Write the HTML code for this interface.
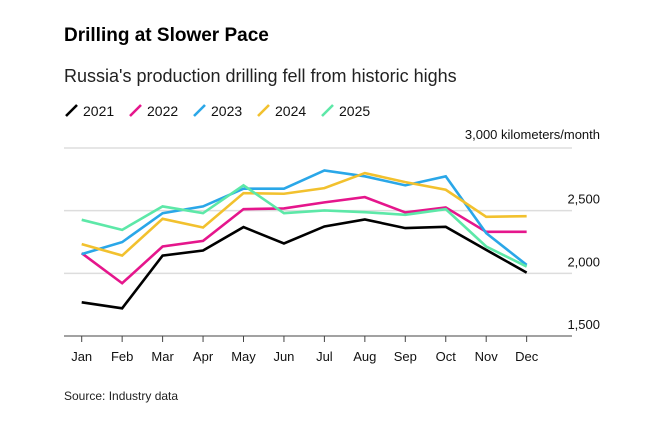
<!DOCTYPE html>
<html><head><meta charset="utf-8"><style>
body{margin:0;background:#fff;font-family:"Liberation Sans",sans-serif;}
svg text{font-family:"Liberation Sans",sans-serif;}
</style></head><body>
<svg width="671" height="417" id="c">
<text x="64" y="41" font-size="19" font-weight="bold" fill="#000">Drilling at Slower Pace</text>
<text x="64" y="82" font-size="18" fill="#222">Russia's production drilling fell from historic highs</text>
<g id="legend"></g>
<text x="600" y="139" font-size="13" fill="#111" text-anchor="end">3,000 kilometers/month</text>
<g id="grid"></g><g id="lines"></g><g id="xa"></g>
<text x="64" y="400" font-size="12" fill="#222">Source: Industry data</text>
</svg>
<script>
const months=["Jan","Feb","Mar","Apr","May","Jun","Jul","Aug","Sep","Oct","Nov","Dec"];
const seriesNames=["2021","2022","2023","2024","2025"];
const colors=["#000000","#e5168c","#2aa7e8","#f2c12e","#5de8a8"];
const v2021=[1769,1721,2142,2182,2369,2238,2374,2430,2361,2371,2187,2006];
const v2022=[2161,1921,2214,2259,2512,2518,2566,2608,2486,2526,2331,2331];
const v2023=[2153,2249,2480,2534,2675,2675,2821,2774,2702,2774,2321,2067];
const v2024=[2233,2142,2435,2366,2640,2635,2680,2800,2728,2667,2451,2456];
const v2025=[2427,2347,2534,2480,2702,2480,2502,2488,2467,2512,2214,2054];
const yTicks=[1500,2000,2500,3000];
const yTickLabels=["1,500","2,000","2,500",""];
const NS="http://www.w3.org/2000/svg";
const y=v=>336-(v-1500)*(188/1500);
const x=i=>81.7+i*40.45;
function mk(t,a,p){const e=document.createElementNS(NS,t);for(const k in a)e.setAttribute(k,a[k]);p.appendChild(e);return e;}
const grid=document.getElementById('grid');
yTicks.forEach((t,i)=>{
 const l=mk('line',{x1:64,x2:572,y1:y(t),y2:y(t),stroke:i==0?'#444':'#ddd','stroke-width':i==0?1:1.5},grid);
 
 
 if(yTickLabels[i]){const tx=mk('text',{x:600,y:y(t)-7,'font-size':13,fill:'#111','text-anchor':'end'},grid);tx.textContent=yTickLabels[i];
 
 }
});
const xa=document.getElementById('xa');
months.forEach((m,i)=>{
 const tk=mk('line',{x1:x(i),x2:x(i),y1:336,y2:342,stroke:'#444'},xa);
 
 
 const t=mk('text',{x:x(i),y:361,'font-size':13,fill:'#111','text-anchor':'middle'},xa);t.textContent=m;
 
 
});
const all=[v2021,v2022,v2023,v2024,v2025];
const lines=document.getElementById('lines');
all.forEach((s,k)=>{
 const p=mk('polyline',{points:s.map((v,i)=>x(i)+','+y(v)).join(' '),fill:'none',stroke:colors[k],'stroke-width':2.6,'stroke-linejoin':'miter'},lines);
 
 
});
const lg=document.getElementById('legend');
const lx=[66,130,194,258,322];
seriesNames.forEach((n,k)=>{
 const l=mk('line',{x1:lx[k],y1:116,x2:lx[k]+11,y2:105,stroke:colors[k],'stroke-width':2.6},lg);
 
 
 const t=mk('text',{x:lx[k]+17,y:116,'font-size':14,fill:'#111'},lg);t.textContent=n;
 
 
});
</script>
</body></html>
